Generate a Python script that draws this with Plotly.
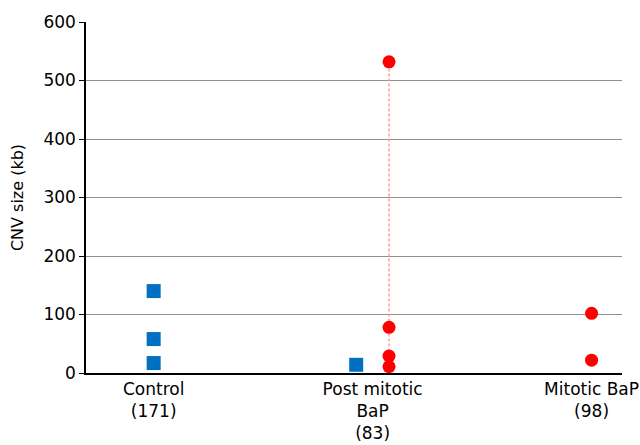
import plotly.graph_objects as go

categories = ["Control<br>(171)", "Post mitotic<br>BaP<br>(83)", "Mitotic BaP<br>(98)"]
cat_pos = [0, 1, 2]

# Blue squares (x = category position with small offset)
blue_x = [0, 0, 0, 0.925]
blue_y = [140, 58, 17, 14]

# Red circles
red_x = [1.075, 1.075, 1.075, 1.075, 2, 2]
red_y = [532, 78, 29, 11, 102, 22]

# Dashed range line for Post mitotic BaP red points
post_red = [v for x, v in zip(red_x, red_y) if abs(x - 1.075) < 1e-9]

fig = go.Figure()
fig.add_trace(go.Scatter(
    x=[1.075, 1.075], y=[min(post_red), max(post_red)], mode="lines",
    line=dict(color="#ff9a9a", width=1.5, dash="3px,2px"), hoverinfo="skip", showlegend=False))
fig.add_trace(go.Scatter(
    x=blue_x, y=blue_y, mode="markers",
    marker=dict(symbol="square", size=14, color="#0070c0"), showlegend=False))
fig.add_trace(go.Scatter(
    x=red_x, y=red_y, mode="markers",
    marker=dict(symbol="circle", size=13, color="#ff0000"), showlegend=False))

fig.update_layout(
    width=640, height=445,
    margin=dict(l=86, r=18, t=22, b=72, autoexpand=False),
    plot_bgcolor="white", paper_bgcolor="white",
    font=dict(family="DejaVu Sans, Arial, sans-serif", size=17, color="black"),
)
fig.update_xaxes(
    range=[-0.309, 2.139], tickmode="array", tickvals=cat_pos, ticktext=categories,
    showgrid=False, zeroline=False, showline=True, linecolor="black", linewidth=1.5,
    ticks="", tickfont=dict(size=17), automargin=False)
fig.update_yaxes(
    range=[0, 600], dtick=100, showgrid=True, gridcolor="#909090", gridwidth=1,
    zeroline=False, showline=True, linecolor="black", linewidth=1.5,
    ticks="outside", ticklen=5, tickcolor="black", tickfont=dict(size=17),
    title=dict(text="CNV size (kb)", font=dict(size=16), standoff=16), automargin=False)

fig.write_html("out.html", config={"displayModeBar": False},
               post_script="document.body.style.margin='0';")
